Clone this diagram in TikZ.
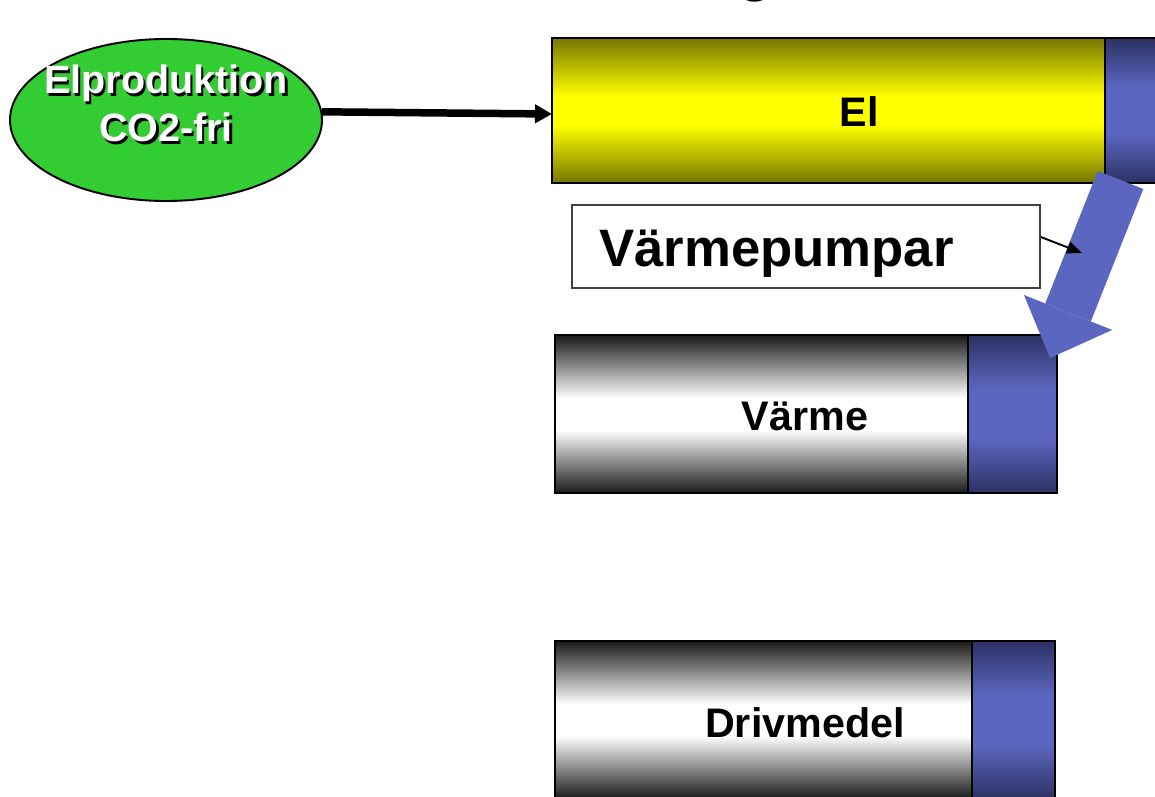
\documentclass[tikz,border=0pt]{standalone}
\usepackage{fontspec}
\setmainfont{Liberation Sans}
\usetikzlibrary{shapes.geometric,arrows.meta,positioning}

\definecolor{elgreen}{RGB}{51,204,51}
\definecolor{pumpblue}{RGB}{91,102,192}
\definecolor{capdark}{RGB}{44,49,98}
\definecolor{olivedark}{RGB}{118,118,0}
\definecolor{bardark}{RGB}{25,25,25}

% shadings for the bars (central 50bp cover the node)
\pgfdeclareverticalshading{yellowbar}{100bp}{color(0bp)=(olivedark); color(25bp)=(olivedark); color(45bp)=(yellow); color(55bp)=(yellow); color(75bp)=(olivedark); color(100bp)=(olivedark)}
\pgfdeclareverticalshading{graybar}{100bp}{color(0bp)=(bardark); color(25bp)=(bardark); color(45bp)=(white); color(55bp)=(white); color(75bp)=(bardark); color(100bp)=(bardark)}
\pgfdeclareverticalshading{bluecap}{100bp}{color(0bp)=(capdark); color(25bp)=(capdark); color(42bp)=(pumpblue); color(58bp)=(pumpblue); color(75bp)=(capdark); color(100bp)=(capdark)}

\newcommand{\pxu}{0.02cm}

\begin{document}
\begin{tikzpicture}[
    x=0.02cm, y=-0.02cm,
    % bar styles
    barbase/.style={draw=black, line width=1.6pt, shade, inner sep=0pt, outer sep=0pt},
    elbody/.style={barbase, shading=yellowbar},
    heatbody/.style={barbase, shading=graybar},
    capbox/.style={barbase, shading=bluecap, anchor=west},
    bartext/.style={font=\bfseries\fontsize{23.5}{28}\selectfont, anchor=base},
    % source and pump
    source/.style={ellipse, draw=black, line width=1.1pt, fill=elgreen, inner sep=0pt, minimum width=312*\pxu, minimum height=162*\pxu},
    ovaltext/.style={font=\bfseries\fontsize{22.5}{27}\selectfont, anchor=base},
    pumpbox/.style={draw=black!75, line width=0.9pt, inner sep=0pt, minimum width=468*\pxu, minimum height=83*\pxu},
    % arrow styles
    supply/.style={line width=0.15cm, -{Triangle[length=0.34cm, width=0.36cm]}},
    pointer/.style={line width=1.1pt, -{Triangle[length=0.3cm, width=0.24cm]}},
    flow/.style={pumpblue, line width=0.98cm, -{Triangle[length=0.98cm, width=1.9cm, line width=0pt]}},
]
\useasboundingbox (0,0) rectangle (1155,797);

% title, cut off at the top
\node[font=\bfseries\fontsize{34}{40}\selectfont, anchor=base] (titlepart) at (756,-10) {g};

% === El ===
\node[elbody, minimum width=553*\pxu, minimum height=145*\pxu] (el) at (828.5,110.5) {};
\node[capbox, minimum width=58*\pxu, minimum height=145*\pxu] (elcap) at (el.east) {};
\node[bartext] (eltext) at (859,127) {El};

% === Elproduktion ===
\node[source] (elprod) at (166,120) {};
\foreach \off/\tcol/\nm in {2.5/black/shadow, 0/white/front} {
    \node[ovaltext, text=\tcol] (elprod-\nm-a) at (166+\off,94+\off) {Elproduktion};
    \node[ovaltext, text=\tcol] (elprod-\nm-b) at (166+\off,142+\off) {CO2-fri};
}
\draw[supply] (elprod.3) -- ([yshift=-0.07cm]el.west);

% === Värme ===
\node[heatbody, minimum width=413*\pxu, minimum height=158*\pxu] (varme) at (761.5,414) {};
\node[capbox, minimum width=89*\pxu, minimum height=158*\pxu] (varmecap) at (varme.east) {};
\node[bartext] (varmetext) at (805,430) {Värme};

% === Drivmedel ===
\node[heatbody, minimum width=417*\pxu, minimum height=158*\pxu] (driv) at (763.5,720) {};
\node[capbox, minimum width=83*\pxu, minimum height=158*\pxu] (drivcap) at (driv.east) {};
\node[bartext] (drivtext) at (805,737) {Drivmedel};

% === Värmepumpar ===
\node[pumpbox] (pump) at (806,246.5) {};
\node[font=\bfseries\fontsize{30}{36}\selectfont, anchor=base west] (pumptext) at (593,266) {Värmepumpar};

% heat pump flow from El to Värme
\coordinate (flowfrom) at (1120.5,180);
\coordinate (flowto) at (1050,358);
\draw[flow] (flowfrom) -- (flowto);

\coordinate (pumptip) at (1082,253);
\draw[pointer] ([yshift=0.19cm]pump.east) -- (pumptip);

\end{tikzpicture}
\end{document}
